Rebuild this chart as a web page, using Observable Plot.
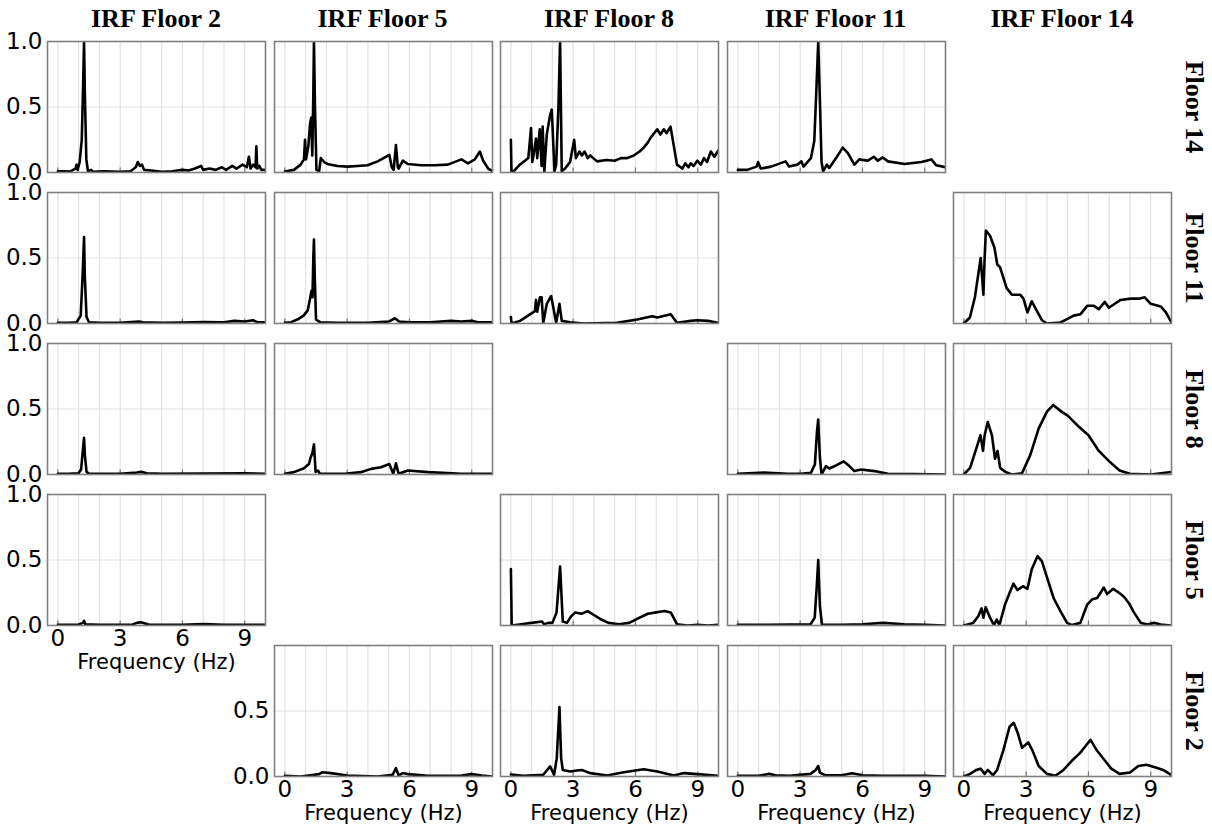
<!DOCTYPE html>
<html><head><meta charset="utf-8">
<script src="https://cdn.jsdelivr.net/npm/d3@7"></script>
<script src="https://cdn.jsdelivr.net/npm/@observablehq/plot@0.6"></script>
<style>
body{margin:0;background:#fff;}
#wrap{position:relative;width:1212px;height:827px;overflow:hidden;background:#fff;}
.ttl{position:absolute;font-family:"Liberation Serif","Times New Roman",serif;font-weight:bold;font-size:26px;line-height:36px;white-space:nowrap;color:#000;}
.cell{position:absolute;}
</style></head><body><div id="wrap"></div>
<script>
// ---- categories / ticks ----
const irfFloors = [2, 5, 8, 11, 14];          // columns
const rowFloors = [14, 11, 8, 5, 2];          // rows
const xTicks = [0, 3, 6, 9];
const yTicks = [0, 0.5, 1];
const yTicksLast = [0, 0.5];
const gridHz = [0, 1, 2, 3, 4, 5, 6, 7, 8, 9];

// ---- series: [frequency Hz, amplitude] ----
// Row Floor 14
const fl14_irf2 = [[0,0.01],[0.3,0.01],[0.6,0.008],[0.85,0.03],[0.9,0.06],[0.95,0.02],[1.05,0.08],[1.15,0.25],[1.22,0.7],[1.26,1.0],[1.3,0.6],[1.37,0.1],[1.45,0.01],[1.6,0.02],[1.7,0.005],[2.2,0.01],[3.0,0.005],[3.5,0.01],[3.75,0.04],[3.85,0.08],[3.95,0.05],[4.05,0.06],[4.15,0.02],[4.5,0.015],[5.0,0.005],[5.5,0.01],[6.0,0.02],[6.3,0.015],[6.6,0.03],[6.9,0.05],[7.0,0.02],[7.3,0.03],[7.6,0.02],[7.9,0.04],[8.1,0.02],[8.4,0.05],[8.6,0.03],[8.9,0.06],[9.1,0.04],[9.2,0.12],[9.28,0.03],[9.4,0.06],[9.52,0.04],[9.56,0.2],[9.6,0.03],[9.7,0.05],[9.8,0.02],[10,0.02]];
const fl14_irf5 = [[0,0.008],[0.44,0.02],[0.76,0.06],[0.92,0.1],[0.97,0.25],[1.02,0.1],[1.13,0.2],[1.21,0.37],[1.27,0.42],[1.32,0.13],[1.37,0.6],[1.4,1.0],[1.45,0.5],[1.52,0.02],[1.65,0.01],[1.73,0.11],[1.89,0.08],[2.05,0.065],[2.53,0.05],[3.02,0.045],[3.5,0.05],[3.98,0.055],[4.47,0.085],[5.03,0.135],[5.15,0.04],[5.24,0.02],[5.35,0.21],[5.44,0.04],[5.48,0.03],[5.68,0.09],[5.92,0.065],[6.56,0.055],[7.2,0.055],[7.85,0.06],[8.5,0.1],[8.82,0.07],[9.15,0.1],[9.39,0.16],[9.55,0.09],[9.79,0.03],[10,0.01]];
const fl14_irf8 = [[0,0.25],[0.03,0.0],[0.2,0.02],[0.43,0.06],[0.6,0.08],[0.84,0.11],[0.97,0.34],[1.03,0.08],[1.1,0.14],[1.21,0.26],[1.27,0.11],[1.39,0.33],[1.48,0.05],[1.53,0.35],[1.61,0.01],[1.73,0.29],[1.89,0.44],[1.97,0.48],[2.1,0.01],[2.18,0.06],[2.29,0.5],[2.37,1.0],[2.45,0.01],[2.61,0.03],[2.85,0.08],[3.05,0.25],[3.13,0.11],[3.3,0.16],[3.42,0.13],[3.55,0.16],[3.7,0.11],[3.82,0.13],[4.15,0.085],[4.6,0.095],[5.0,0.09],[5.3,0.11],[5.6,0.11],[5.92,0.13],[6.2,0.16],[6.4,0.19],[6.6,0.23],[6.75,0.27],[6.9,0.3],[7.05,0.33],[7.2,0.29],[7.37,0.33],[7.5,0.3],[7.69,0.35],[8.0,0.06],[8.26,0.03],[8.4,0.07],[8.55,0.04],[8.66,0.07],[8.8,0.05],[8.98,0.09],[9.15,0.06],[9.3,0.11],[9.45,0.08],[9.63,0.16],[9.8,0.12],[10,0.17]];
const fl14_irf11 = [[0,0.02],[0.45,0.02],[0.9,0.045],[0.97,0.08],[1.1,0.03],[1.6,0.045],[2.3,0.085],[2.47,0.045],[2.87,0.06],[3.06,0.085],[3.16,0.045],[3.52,0.11],[3.68,0.24],[3.79,0.67],[3.87,1.0],[3.95,0.55],[4.03,0.08],[4.11,0.01],[4.29,0.06],[4.4,0.035],[4.73,0.11],[5.05,0.19],[5.29,0.15],[5.61,0.06],[5.85,0.1],[6.26,0.09],[6.55,0.12],[6.74,0.09],[6.98,0.115],[7.23,0.085],[8.03,0.065],[8.84,0.08],[9.32,0.1],[9.55,0.055],[10,0.04]];
// Row Floor 11
const fl11_irf2 = [[0,0.005],[0.5,0.005],[0.9,0.01],[1.1,0.06],[1.2,0.4],[1.26,0.66],[1.3,0.35],[1.38,0.05],[1.5,0.01],[2,0.005],[3,0.005],[3.9,0.015],[4.1,0.01],[5,0.005],[6,0.008],[7,0.012],[8,0.01],[8.5,0.02],[9,0.015],[9.4,0.025],[9.6,0.01],[10,0.01]];
const fl11_irf5 = [[0,0.005],[0.3,0.01],[0.6,0.03],[0.9,0.06],[1.1,0.1],[1.2,0.18],[1.28,0.25],[1.33,0.2],[1.37,0.5],[1.4,0.64],[1.44,0.35],[1.5,0.03],[1.7,0.01],[2.5,0.005],[4,0.005],[5,0.015],[5.3,0.04],[5.5,0.015],[6,0.01],[7,0.01],[8,0.02],[8.5,0.015],[9,0.02],[9.3,0.01],[10,0.01]];
const fl11_irf8 = [[0,0.05],[0.03,0.0],[0.44,0.02],[0.92,0.07],[1.16,0.095],[1.21,0.18],[1.27,0.09],[1.4,0.2],[1.48,0.2],[1.56,0.005],[1.73,0.15],[1.94,0.21],[2.18,0.005],[2.34,0.15],[2.45,0.02],[2.85,0.01],[3.5,0.0],[5.1,0.005],[6.08,0.03],[6.81,0.056],[7.05,0.045],[7.7,0.07],[8.0,0.005],[8.66,0.02],[8.98,0.025],[9.5,0.02],[10,0.005]];
const fl11_irf14 = [[0,0],[0.29,0.046],[0.53,0.2],[0.81,0.5],[0.94,0.22],[1.0,0.5],[1.06,0.71],[1.26,0.67],[1.47,0.58],[1.61,0.45],[1.74,0.43],[2.06,0.27],[2.31,0.22],[2.71,0.22],[2.87,0.19],[3.06,0.084],[3.27,0.17],[3.5,0.1],[3.76,0.025],[4.0,0],[4.65,0.008],[4.97,0.033],[5.29,0.06],[5.61,0.07],[5.94,0.135],[6.26,0.135],[6.5,0.11],[6.79,0.165],[6.98,0.12],[7.55,0.18],[8.03,0.19],[8.47,0.19],[8.71,0.2],[9.0,0.15],[9.48,0.13],[9.73,0.085],[10,0.008]];
// Row Floor 8
const fl8_irf2 = [[0,0.005],[0.5,0.005],[1.0,0.01],[1.12,0.04],[1.2,0.18],[1.26,0.28],[1.3,0.15],[1.38,0.02],[1.5,0.005],[3,0.005],[3.8,0.015],[4.0,0.02],[4.3,0.01],[5,0.005],[7,0.008],[9,0.01],[10,0.005]];
const fl8_irf5 = [[0,0.005],[0.44,0.018],[0.92,0.048],[1.16,0.08],[1.24,0.13],[1.32,0.16],[1.4,0.23],[1.48,0.02],[1.6,0.03],[1.69,0.005],[2.9,0.005],[3.66,0.018],[4.15,0.043],[4.63,0.056],[5.03,0.08],[5.22,0.005],[5.35,0.086],[5.48,0.005],[5.92,0.03],[6.9,0.018],[8.5,0.005],[10,0.005]];
const fl8_irf11 = [[0,0.005],[1.26,0.015],[2.39,0.005],[3.03,0.005],[3.52,0.013],[3.71,0.077],[3.81,0.33],[3.87,0.42],[3.95,0.13],[4.03,0.0],[4.24,0.064],[4.4,0.046],[4.73,0.069],[5.1,0.1],[5.37,0.064],[5.61,0.026],[5.94,0.038],[6.58,0.026],[7.23,0.005],[8.5,0.003],[10,0]];
const fl8_irf14 = [[0,0],[0.3,0.05],[0.6,0.2],[0.8,0.3],[0.92,0.18],[1.0,0.3],[1.15,0.4],[1.35,0.3],[1.5,0.12],[1.62,0.18],[1.75,0.05],[2.0,0.02],[2.3,0.0],[2.8,0.01],[3.2,0.15],[3.6,0.35],[4.0,0.48],[4.3,0.53],[4.7,0.48],[5.0,0.45],[5.5,0.37],[6.0,0.3],[6.5,0.18],[7.0,0.1],[7.5,0.03],[8.0,0.005],[9,0],[9.5,0.01],[10,0.02]];
// Row Floor 5
const fl5_irf2 = [[0,0.005],[1.0,0.008],[1.2,0.02],[1.26,0.035],[1.32,0.01],[2,0.005],[3.6,0.008],[3.8,0.02],[4.0,0.025],[4.2,0.015],[4.4,0.005],[6,0.005],[7,0.012],[8,0.005],[10,0.005]];
const fl5_irf8 = [[0,0.43],[0.04,0.0],[0.5,0.01],[1.0,0.02],[1.5,0.03],[1.6,0.01],[1.8,0.02],[2.0,0.02],[2.2,0.1],[2.37,0.45],[2.5,0.03],[2.7,0.02],[2.9,0.07],[3.1,0.1],[3.4,0.09],[3.7,0.11],[4.0,0.08],[4.3,0.05],[4.7,0.02],[5.2,0.01],[5.7,0.02],[6.2,0.06],[6.6,0.09],[7.0,0.1],[7.4,0.11],[7.7,0.1],[8.0,0.01],[8.5,0.0],[9.0,0.005],[9.5,0.0],[10,0.005]];
const fl5_irf11 = [[0,0.005],[1.5,0.005],[2.5,0.008],[3.5,0.01],[3.7,0.06],[3.8,0.3],[3.87,0.5],[3.95,0.15],[4.05,0.005],[5,0.005],[6,0.01],[7,0.02],[8,0.01],[9,0.005],[10,0]];
const fl5_irf14 = [[0,0],[0.45,0.02],[0.69,0.07],[0.85,0.13],[0.94,0.06],[1.05,0.14],[1.26,0.06],[1.45,0.003],[1.58,0.045],[1.71,0.003],[1.98,0.16],[2.23,0.26],[2.39,0.32],[2.58,0.27],[2.84,0.3],[3.06,0.28],[3.27,0.43],[3.55,0.53],[3.76,0.49],[4.0,0.37],[4.32,0.21],[4.65,0.11],[4.97,0.02],[5.21,0.003],[5.61,0.02],[5.94,0.16],[6.18,0.2],[6.42,0.21],[6.74,0.29],[6.9,0.24],[7.19,0.28],[7.47,0.25],[7.71,0.22],[7.95,0.17],[8.19,0.1],[8.52,0.02],[8.84,0.008],[9.16,0.02],[9.48,0.008],[10,0]];
// Row Floor 2
const fl2_irf5 = [[0,0.005],[0.76,0.0],[1.4,0.013],[1.65,0.018],[1.81,0.033],[2.21,0.026],[3.0,0.008],[4.47,0.0],[5.19,0.013],[5.35,0.064],[5.48,0.008],[5.68,0.026],[5.92,0.018],[6.89,0.005],[8.5,0.008],[9.0,0.018],[9.5,0.008],[10,0]];
const fl2_irf8 = [[0,0.015],[0.6,0.005],[1.56,0.013],[1.89,0.077],[2.08,0.013],[2.21,0.14],[2.34,0.53],[2.42,0.14],[2.5,0.05],[2.85,0.038],[3.18,0.046],[3.42,0.05],[3.82,0.026],[4.63,0.008],[5.44,0.033],[6.4,0.056],[7.05,0.038],[7.85,0.008],[8.34,0.026],[8.98,0.018],[10,0.005]];
const fl2_irf11 = [[0,0.005],[1,0.005],[1.5,0.02],[1.8,0.01],[2.5,0.005],[3.5,0.02],[3.75,0.05],[3.87,0.08],[3.95,0.03],[4.2,0.01],[5.0,0.01],[5.5,0.025],[6,0.01],[7,0.005],[8,0.005],[9,0.005],[10,0]];
const fl2_irf14 = [[0,0],[0.3,0.02],[0.6,0.05],[0.8,0.06],[1.0,0.02],[1.15,0.05],[1.4,0.01],[1.6,0.05],[1.9,0.2],[2.2,0.38],[2.4,0.41],[2.6,0.33],[2.8,0.22],[3.1,0.26],[3.3,0.2],[3.6,0.08],[4.0,0.02],[4.4,0.005],[4.8,0.05],[5.2,0.12],[5.6,0.18],[5.9,0.24],[6.1,0.28],[6.4,0.2],[6.8,0.12],[7.1,0.06],[7.5,0.02],[8.0,0.03],[8.4,0.08],[8.8,0.09],[9.2,0.07],[9.6,0.05],[10,0.01]];

// grid of series (null = empty cell)
const grid = [
  [fl14_irf2, fl14_irf5, fl14_irf8, fl14_irf11, null],
  [fl11_irf2, fl11_irf5, fl11_irf8, null, fl11_irf14],
  [fl8_irf2, fl8_irf5, null, fl8_irf11, fl8_irf14],
  [fl5_irf2, null, fl5_irf8, fl5_irf11, fl5_irf14],
  [null, fl2_irf5, fl2_irf8, fl2_irf11, fl2_irf14]
];

// ---- layout ----
const PL0 = 47, CSTEP = 226.5, PT0 = 41, RSTEP = 151, PW = 218, PH = 131;
const ML = 50, MR = 10, MT = 5, MB = 50;
const wrap = document.getElementById("wrap");

// column titles
irfFloors.forEach((f, c) => {
  const d = document.createElement("div");
  d.className = "ttl";
  d.textContent = `IRF Floor ${f}`;
  d.style.left = (PL0 + c * CSTEP + PW / 2) + "px";
  d.style.top = "1px";
  d.style.transform = "translateX(-50%)";
  wrap.appendChild(d);
});
// row labels
rowFloors.forEach((f, r) => {
  const d = document.createElement("div");
  d.className = "ttl";
  d.textContent = `Floor ${f}`;
  d.style.left = "1194px";
  d.style.top = (PT0 + r * RSTEP + PH / 2) + "px";
  d.style.transform = "translate(-50%,-50%) rotate(90deg)";
  wrap.appendChild(d);
});

for (let r = 0; r < 5; r++) {
  for (let c = 0; c < 5; c++) {
    const data = grid[r][c];
    if (!data) continue;
    // x axis on the bottom-most non-empty panel of each column
    let lastRow = 4; while (!grid[lastRow][c]) lastRow--;
    const showX = r === lastRow;
    // y axis on the left-most non-empty panel of each row
    let firstCol = 0; while (!grid[r][firstCol]) firstCol++;
    const showY = c === firstCol;
    const marks = [
      Plot.ruleX(gridHz, {stroke: "#e2e2e2", strokeWidth: 1.2}),
      Plot.ruleY([0.5], {stroke: "#e2e2e2", strokeWidth: 1.2}),
      Plot.ruleX(xTicks, {y1: 0, y2: 0.035, stroke: "#777", strokeWidth: 1.2}),
      Plot.line(data, {x: d => d[0], y: d => d[1], stroke: "#000", strokeWidth: 2.6, strokeLinejoin: "round", clip: true}),
      Plot.frame({stroke: "#808080", strokeWidth: 1.6})
    ];
    if (showX) {
      marks.push(Plot.axisX(xTicks, {tickSize: 0, tickPadding: 4, fontSize: 23, label: null}));
      marks.push(Plot.text(["Frequency (Hz)"], {frameAnchor: "bottom", lineAnchor: "middle", dy: 37, fontSize: 21}));
    }
    if (showY) {
      marks.push(Plot.axisY(r === 4 ? yTicksLast : yTicks, {tickSize: 0, tickPadding: 5, tickFormat: d3.format(".1f"), fontSize: 23, label: null}));
    }
    const svg = Plot.plot({
      width: PW + ML + MR, height: PH + MT + MB,
      marginLeft: ML, marginRight: MR, marginTop: MT, marginBottom: MB,
      style: {background: "transparent", overflow: "visible", fontFamily: "'DejaVu Sans', sans-serif", color: "#000"},
      x: {domain: [-0.5, 10], axis: showX ? undefined : null},
      y: {domain: [0, 1], axis: showY ? undefined : null},
      marks
    });
    const holder = document.createElement("div");
    holder.className = "cell";
    holder.style.left = (PL0 + c * CSTEP - ML) + "px";
    holder.style.top = (PT0 + r * RSTEP - MT) + "px";
    holder.appendChild(svg);
    wrap.appendChild(holder);
  }
}
</script></body></html>
